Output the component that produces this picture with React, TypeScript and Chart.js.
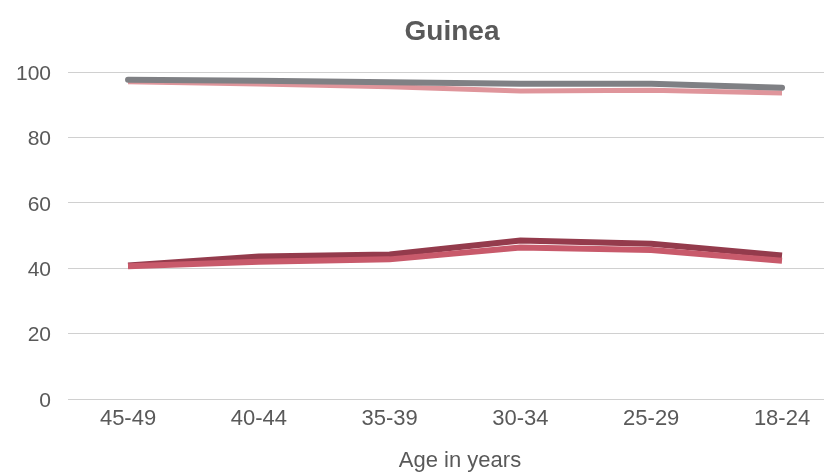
import React, { useEffect, useRef } from "react";
import { Chart, registerables } from "chart.js";

Chart.register(...registerables);

const categories = ["45-49", "40-44", "35-39", "30-34", "25-29", "18-24"];
const greySeries = [97.6, 97.3, 96.9, 96.4, 96.4, 95.2];
const lightPinkSeries = [97.0, 96.3, 95.5, 94.2, 94.4, 93.6];
const maroonSeries = [40.8, 43.6, 44.2, 48.5, 47.5, 43.9];
const roseSeries = [40.6, 42.0, 42.7, 46.3, 45.6, 42.3];
const yTicks = [0, 20, 40, 60, 80, 100];
const chartTitle = "Guinea";
const xAxisTitle = "Age in years";

const FONT = "'Liberation Sans', Arial, sans-serif";
const TEXT = "#595959";

const titlesPlugin = {
  id: "titlesPlugin",
  afterDraw(chart: any) {
    const { ctx, chartArea } = chart;
    const cx = (chartArea.left + chartArea.right) / 2;
    ctx.save();
    ctx.fillStyle = TEXT;
    ctx.textAlign = "center";
    ctx.textBaseline = "alphabetic";
    ctx.font = `bold 28px ${FONT}`;
    ctx.fillText(chartTitle, cx + 6, chartArea.top - 32);
    ctx.font = `22px ${FONT}`;
    ctx.fillText(xAxisTitle, cx + 14, chartArea.bottom + 68);
    ctx.restore();
  },
};

export default function App() {
  const ref = useRef<HTMLCanvasElement | null>(null);

  useEffect(() => {
    document.body.style.margin = "0";
    const canvas = ref.current;
    if (!canvas) return;
    const toPts = (arr: number[]) => arr.map((y, i) => ({ x: i, y }));
    const chart = new Chart(canvas, {
      type: "line",
      data: {
        datasets: [
          {
            label: "Series A",
            data: toPts(greySeries),
            borderColor: "#7f8084",
            borderWidth: 6,
            borderCapStyle: "round",
            pointRadius: 0,
            order: 0,
          },
          {
            label: "Series B",
            data: toPts(lightPinkSeries),
            borderColor: "#df959b",
            borderWidth: 5,
            borderCapStyle: "butt",
            pointRadius: 0,
            order: 2,
          },
          {
            label: "Series C",
            data: toPts(maroonSeries),
            borderColor: "#943b4c",
            borderWidth: 6,
            borderCapStyle: "butt",
            pointRadius: 0,
            order: 3,
          },
          {
            label: "Series D",
            data: toPts(roseSeries),
            borderColor: "#c85a6b",
            borderWidth: 6,
            borderCapStyle: "butt",
            pointRadius: 0,
            order: 1,
          },
        ],
      },
      options: {
        animation: false,
        responsive: false,
        maintainAspectRatio: false,
        layout: { padding: { left: 0, right: 12, top: 72, bottom: 0 } },
        plugins: {
          legend: { display: false },
          tooltip: { enabled: false },
          title: { display: false },
        },
        scales: {
          x: {
            type: "linear",
            min: -0.459,
            max: 5.321,
            grid: { display: false, drawTicks: false },
            border: { display: false },
            afterBuildTicks: (scale: any) => {
              scale.ticks = categories.map((_, i) => ({ value: i }));
            },
            afterFit: (scale: any) => {
              scale.height = 75;
            },
            ticks: {
              autoSkip: false,
              maxRotation: 0,
              padding: 7,
              color: TEXT,
              font: { family: FONT, size: 22 },
              callback: (v: any) => categories[Number(v)] ?? "",
            },
          },
          y: {
            min: 0,
            max: 100,
            grid: { color: "#d0d0d0", lineWidth: 1, drawTicks: false },
            border: { display: false },
            afterBuildTicks: (scale: any) => {
              scale.ticks = yTicks.map((v) => ({ value: v }));
            },
            afterFit: (scale: any) => {
              scale.width = 68;
            },
            ticks: {
              padding: 17,
              labelOffset: 2,
              color: TEXT,
              font: { family: FONT, size: 21 },
            },
          },
        },
      },
      plugins: [titlesPlugin],
    } as any);
    return () => chart.destroy();
  }, []);

  return (
    <div style={{ width: 836, height: 474 }}>
      <canvas ref={ref} width={836} height={474} style={{ display: "block" }} />
    </div>
  );
}
